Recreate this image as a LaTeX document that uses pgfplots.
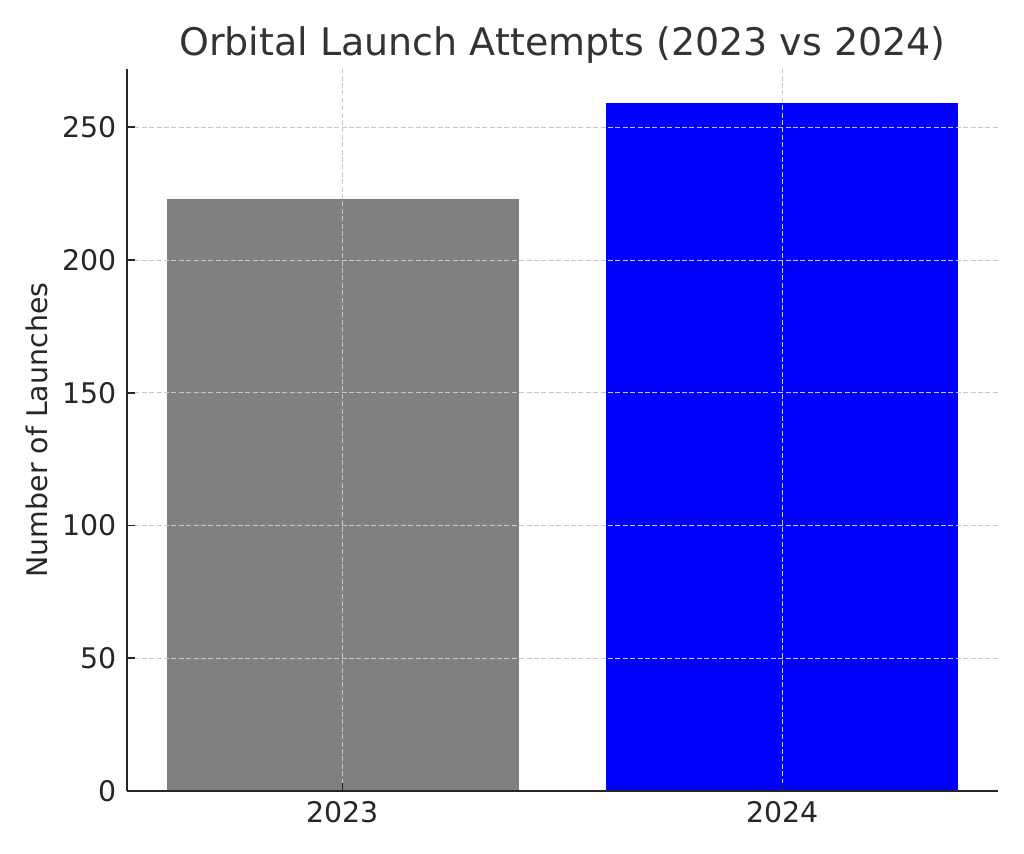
\documentclass[border=0pt]{standalone}
\usepackage{fontspec}
\setmainfont{DejaVu Sans}
\usepackage{pgfplots}
\pgfplotsset{compat=1.18}

\definecolor{txt}{HTML}{262626}
\definecolor{gridc}{HTML}{C8C8C8}

\begin{document}
\begin{tikzpicture}
  \begin{axis}[
      scale only axis, width=435.5pt, height=361pt,
      xmin=-0.49, xmax=1.49, ymin=0, ymax=271.95,
      axis lines=left, axis line style={-, txt, line width=0.8pt},
      tick align=inside, major tick length=4pt,
      tick style={txt, line width=0.8pt},
      xtick={0,1}, xticklabels={2023,2024},
      ytick={0,50,100,150,200,250},
      /pgf/number format/assume math mode=true,
      ticklabel style={font=\fontsize{14.2}{17}\selectfont, text=txt, inner sep=0pt},
      xticklabel style={anchor=north, yshift=-5pt},
      yticklabel style={anchor=east, xshift=-5pt},
      grid=major, major grid style={gridc, line width=0.5pt, dash pattern=on 2.5pt off 1.2pt},
      axis on top,
      title={Orbital Launch Attempts (2023 vs 2024)},
      title style={font=\fontsize{19}{23}\selectfont, text=black!80, at={(rel axis cs:0.5,1)}, anchor=base, yshift=0.5pt},
      ylabel={Number of Launches},
      ylabel style={font=\fontsize{14.2}{17}\selectfont, text=txt, at={(rel axis cs:0,0.5)}, anchor=base, yshift=39.5pt},
    ]
    \addplot[ybar, bar width=0.8, bar shift=0pt, fill=gray, draw=none] coordinates {(0,223)};
    \addplot[ybar, bar width=0.8, bar shift=0pt, fill=blue, draw=none] coordinates {(1,259)};
    \coordinate (ll) at (rel axis cs:0,0);
    \coordinate (ur) at (rel axis cs:1,1);
  \end{axis}
  \pgfresetboundingbox
  \path[use as bounding box] ([shift={(-63.5pt,-31pt)}]ll) rectangle ([shift={(13pt,34.5pt)}]ur);
\end{tikzpicture}
\end{document}
